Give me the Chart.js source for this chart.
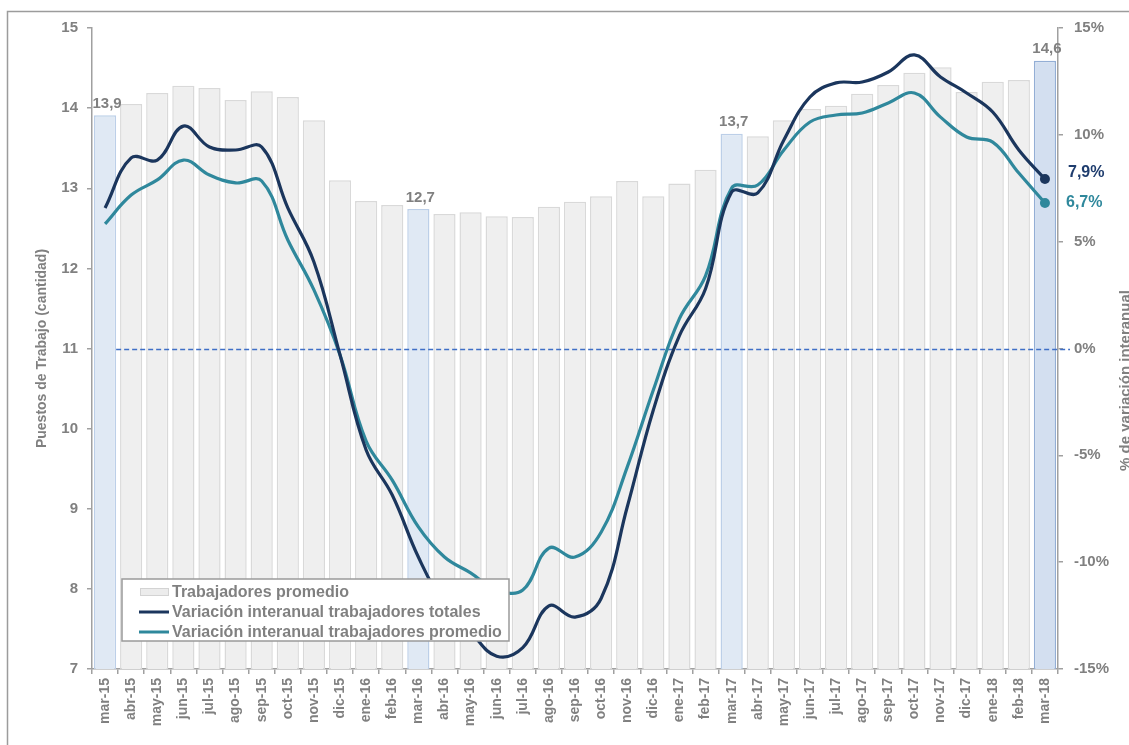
<!DOCTYPE html>
<html>
<head>
<meta charset="utf-8">
<script src="https://cdn.jsdelivr.net/npm/chart.js@4.4.1/dist/chart.umd.min.js"></script>
<style>
  html, body { margin: 0; padding: 0; background: #ffffff; overflow: hidden; }
  #wrap { position: relative; width: 1129px; height: 745px; }
  canvas { position: absolute; left: 0; top: 0; }
</style>
</head>
<body>
<div id="wrap"><canvas id="c" width="1129" height="745"></canvas></div>
<script>
const months = ['mar-15','abr-15','may-15','jun-15','jul-15','ago-15','sep-15','oct-15','nov-15','dic-15',
  'ene-16','feb-16','mar-16','abr-16','may-16','jun-16','jul-16','ago-16','sep-16','oct-16','nov-16','dic-16',
  'ene-17','feb-17','mar-17','abr-17','may-17','jun-17','jul-17','ago-17','sep-17','oct-17','nov-17','dic-17',
  'ene-18','feb-18','mar-18'];

const trabajadoresPromedio = [13.91,14.05,14.19,14.28,14.25,14.10,14.21,14.14,13.85,13.10,
  12.84,12.79,12.74,12.68,12.70,12.65,12.64,12.77,12.83,12.90,13.09,12.90,
  13.06,13.23,13.68,13.65,13.85,13.99,14.03,14.18,14.29,14.44,14.51,14.20,
  14.33,14.35,14.59];

const varTotales = [6.58,8.92,8.82,10.41,9.43,9.29,9.43,6.58,4.05,-0.3,
  -4.75,-6.86,-9.76,-12.0,-13.27,-14.4,-14.0,-12.05,-12.57,-11.7,-7.42,-2.88,
  0.6,2.8,7.32,7.28,9.76,11.77,12.43,12.47,12.94,13.74,12.71,11.96,
  11.07,9.29,7.93];

const varPromedio = [5.83,7.18,7.89,8.82,8.12,7.75,7.84,5.08,2.74,-0.3,
  -4.33,-6.16,-8.35,-9.76,-10.5,-11.3,-11.3,-9.34,-9.76,-8.6,-5.55,-1.94,
  1.4,3.4,7.51,7.65,9.29,10.6,10.93,11.02,11.49,11.96,10.83,9.90,
  9.66,8.21,6.81];

const leftTicks = [7,8,9,10,11,12,13,14,15];
const rightTicks = [-15,-10,-5,0,5,10,15];

const labelTotales = 'Variación interanual trabajadores totales';
const labelPromedio = 'Variación interanual trabajadores promedio';
const labelBarras = 'Trabajadores promedio';
const leftTitle = 'Puestos de Trabajo (cantidad)';
const rightTitle = '% de variación interanual';
const endLabels = ['7,9%', '6,7%'];

const GREY = '#808080';
const AXIS = '#a0a0a0';
const DARK = '#1b365d';
const TEAL = '#2f889c';
const FONT = '"Liberation Sans", Arial, sans-serif';

const isMar = m => m.startsWith('mar-');
const lastIdx = months.length - 1;
const barFill = months.map((m, i) => i === lastIdx ? '#d3dff0' : (isMar(m) ? '#e0e9f4' : '#efefef'));
const barBorder = months.map((m, i) => i === lastIdx ? '#93aed5' : (isMar(m) ? '#bccfe8' : '#d9d9d9'));
const endPoint = (n) => months.map((m, i) => i === lastIdx ? n : 0);

const decorations = {
  id: 'decorations',
  beforeDraw(chart) {
    const ctx = chart.ctx;
    ctx.save();
    ctx.strokeStyle = '#9c9c9c';
    ctx.lineWidth = 1.5;
    ctx.beginPath();
    ctx.moveTo(7.5, 800);
    ctx.lineTo(7.5, 11.5);
    ctx.lineTo(1200, 11.5);
    ctx.stroke();
    ctx.restore();
  },
  afterDatasetDraw(chart, args) {
    if (args.index !== 0) return;
    const ctx = chart.ctx;
    const ca = chart.chartArea;
    const y2 = chart.scales.y2;
    const first = chart.getDatasetMeta(0).data[0];
    const y = Math.round(y2.getPixelForValue(0)) + 0.5;
    ctx.save();
    ctx.strokeStyle = '#3f6fc6';
    ctx.lineWidth = 1.4;
    ctx.setLineDash([5, 3]);
    ctx.beginPath();
    ctx.moveTo(first.x + first.width / 2, y);
    ctx.lineTo(ca.right + 12, y);
    ctx.stroke();
    ctx.restore();
  },
  afterDatasetsDraw(chart) {
    const ctx = chart.ctx;
    const ca = chart.chartArea;
    ctx.save();
    const barMeta = chart.getDatasetMeta(0);
    ctx.font = 'bold 15px ' + FONT;
    ctx.fillStyle = GREY;
    ctx.textAlign = 'center';
    ctx.textBaseline = 'bottom';
    months.forEach((m, i) => {
      if (!isMar(m)) return;
      const el = barMeta.data[i];
      const txt = trabajadoresPromedio[i].toFixed(1).replace('.', ',');
      ctx.fillText(txt, el.x + 2, el.y - 4);
    });
    ctx.font = 'bold 16px ' + FONT;
    ctx.textAlign = 'left';
    ctx.textBaseline = 'middle';
    const pDark = chart.getDatasetMeta(1).data[lastIdx];
    const pTeal = chart.getDatasetMeta(2).data[lastIdx];
    ctx.fillStyle = '#1f3d6e';
    ctx.fillText(endLabels[0], ca.right + 10, pDark.y - 6);
    ctx.fillStyle = TEAL;
    ctx.fillText(endLabels[1], ca.right + 8, pTeal.y);

    ctx.fillStyle = GREY;
    ctx.font = 'bold 14px ' + FONT;
    ctx.textAlign = 'center';
    ctx.save();
    ctx.translate(42, (ca.top + ca.bottom) / 2);
    ctx.rotate(-Math.PI / 2);
    ctx.fillText(leftTitle, 0, 0);
    ctx.restore();
    ctx.save();
    ctx.font = 'bold 15px ' + FONT;
    ctx.translate(ca.right + 68, (ca.top + ca.bottom) / 2 + 32);
    ctx.rotate(-Math.PI / 2);
    ctx.fillText(rightTitle, 0, 0);
    ctx.restore();

    const lx = ca.left + 30, ly = ca.bottom - 90, lw = 387, lh = 62;
    ctx.fillStyle = '#ffffff';
    ctx.fillRect(lx, ly, lw, lh);
    ctx.strokeStyle = '#9a9a9a';
    ctx.lineWidth = 1.5;
    ctx.strokeRect(lx, ly, lw, lh);
    const rows = [
      {type: 'bar', text: labelBarras},
      {type: 'line', color: DARK, text: labelTotales},
      {type: 'line', color: TEAL, text: labelPromedio}
    ];
    ctx.font = 'bold 16px ' + FONT;
    ctx.textAlign = 'left';
    ctx.textBaseline = 'middle';
    rows.forEach((r, k) => {
      const cy = ly + 13 + k * 20;
      if (r.type === 'bar') {
        ctx.fillStyle = '#ececec';
        ctx.fillRect(lx + 18, cy - 4, 29, 8);
        ctx.strokeStyle = '#d3d3d3';
        ctx.lineWidth = 1;
        ctx.strokeRect(lx + 18.5, cy - 3.5, 28, 7);
      } else {
        ctx.strokeStyle = r.color;
        ctx.lineWidth = 3;
        ctx.beginPath();
        ctx.moveTo(lx + 17, cy);
        ctx.lineTo(lx + 47, cy);
        ctx.stroke();
      }
      ctx.fillStyle = GREY;
      ctx.fillText(r.text, lx + 50, cy + 1);
    });
    ctx.restore();
  }
};

new Chart(document.getElementById('c'), {
  data: {
    labels: months,
    datasets: [
      {
        type: 'bar', label: labelBarras, data: trabajadoresPromedio, yAxisID: 'y',
        backgroundColor: barFill, borderColor: barBorder, borderWidth: 1.5,
        barPercentage: 0.85, categoryPercentage: 1, order: 3
      },
      {
        type: 'line', label: labelTotales, data: varTotales, yAxisID: 'y2',
        borderColor: DARK, backgroundColor: DARK, borderWidth: 3.2, tension: 0.4,
        pointRadius: endPoint(5), pointHoverRadius: 0, pointBorderWidth: 0, order: 1
      },
      {
        type: 'line', label: labelPromedio, data: varPromedio, yAxisID: 'y2',
        borderColor: TEAL, backgroundColor: TEAL, borderWidth: 3.2, tension: 0.4,
        pointRadius: endPoint(5), pointHoverRadius: 0, pointBorderWidth: 0, order: 2
      }
    ]
  },
  options: {
    responsive: false,
    animation: false,
    layout: { padding: { top: 28, left: 0, right: 0, bottom: 0 } },
    plugins: { legend: { display: false }, tooltip: { enabled: false }, title: { display: false } },
    scales: {
      x: {
        type: 'category',
        offset: true,
        grid: { offset: true, drawOnChartArea: false, drawTicks: true, tickLength: 5, color: AXIS, lineWidth: 1.5 },
        border: { color: AXIS, width: 1.5 },
        ticks: { autoSkip: false, minRotation: 90, maxRotation: 90, color: GREY, padding: 4,
                 font: { family: FONT, size: 14, weight: 'bold' } },
        afterFit: s => { s.height = 76; }
      },
      y: {
        position: 'left', min: 7, max: 15,
        afterBuildTicks: s => { s.ticks = leftTicks.map(v => ({ value: v })); },
        grid: { drawOnChartArea: false, drawTicks: true, tickLength: 5, color: AXIS, lineWidth: 1.5 },
        border: { color: AXIS, width: 1.5 },
        ticks: { color: GREY, padding: 9, font: { family: FONT, size: 15, weight: 'bold' } },
        afterFit: s => { s.width = 92; }
      },
      y2: {
        position: 'right', min: -15, max: 15,
        afterBuildTicks: s => { s.ticks = rightTicks.map(v => ({ value: v })); },
        grid: { drawOnChartArea: false, drawTicks: true, tickLength: 5, color: AXIS, lineWidth: 1.5 },
        border: { color: AXIS, width: 1.5 },
        ticks: { color: GREY, padding: 11, font: { family: FONT, size: 15, weight: 'bold' },
                 callback: v => v + '%' },
        afterFit: s => { s.width = 71; }
      }
    }
  },
  plugins: [decorations]
});
</script>
</body>
</html>
